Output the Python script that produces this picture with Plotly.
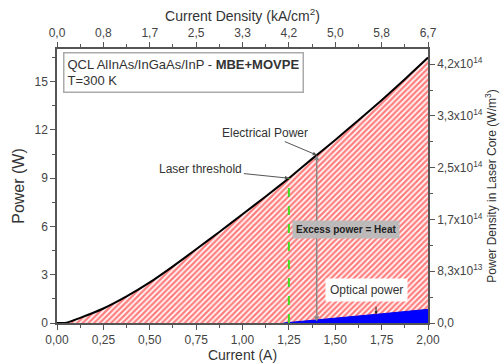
import numpy as np
import plotly.graph_objects as go

# ---- data ----
current_A = [0.0, 0.05, 0.125, 0.25, 0.375, 0.5, 0.625, 0.75, 0.875, 1.0,
             1.125, 1.25, 1.375, 1.5, 1.625, 1.75, 1.875, 2.0]
elec_power_W = [0.0, 0.02, 0.32, 0.90, 1.65, 2.52, 3.52, 4.58, 5.66, 6.76,
                7.86, 9.00, 10.20, 11.38, 12.60, 13.85, 15.15, 16.50]
opt_current_A = [1.22, 1.25, 1.5, 1.75, 2.0]
opt_power_W = [0.0, 0.03, 0.29, 0.57, 0.85]
threshold_A = 1.25
marker_A = 1.40

x_ticks = [0.0, 0.25, 0.5, 0.75, 1.0, 1.25, 1.5, 1.75, 2.0]
x_ticktext = ["0,00", "0,25", "0,50", "0,75", "1,00", "1,25", "1,50", "1,75", "2,00"]
top_ticktext = ["0,0", "0,8", "1,7", "2,5", "3,3", "4,2", "5,0", "5,8", "6,7"]
y_ticks = [0, 3, 6, 9, 12, 15]
dens_per_W = 2.59e13
dens_ticks = [0.0, 0.833e14, 1.667e14, 2.5e14, 3.333e14, 4.167e14]
dens_ticktext = ["0,0", "8,3x10<sup>13</sup>", "1,7x10<sup>14</sup>", "2,5x10<sup>14</sup>",
                 "3,3x10<sup>14</sup>", "4,2x10<sup>14</sup>"]

YMAX = 17.03
FONT = "Liberation Sans, Arial, sans-serif"
AX = "#555555"
TXT = "#333333"

fig = go.Figure()
fig.add_trace(go.Scatter(
    x=current_A, y=elec_power_W, mode="lines", fill="tozeroy",
    line=dict(color="black", width=2, shape="spline", smoothing=0.5),
    fillcolor="white",
    fillpattern=dict(shape="/", fgcolor="#ff0000", bgcolor="white", size=4, solidity=0.6),
    hoverinfo="skip", showlegend=False))
fig.add_trace(go.Scatter(
    x=opt_current_A, y=opt_power_W, mode="lines", fill="tozeroy",
    line=dict(color="#0000ee", width=1), fillcolor="#0000ff",
    hoverinfo="skip", showlegend=False))
# invisible trace carrying the secondary axes
fig.add_trace(go.Scatter(
    x=current_A, y=[p * dens_per_W for p in elec_power_W], xaxis="x2", yaxis="y2",
    mode="lines", line=dict(width=0, color="rgba(0,0,0,0)"), hoverinfo="skip", showlegend=False))

p_thr = float(np.interp(threshold_A, current_A, elec_power_W))
p_mark = float(np.interp(marker_A, current_A, elec_power_W))

fig.add_shape(type="line", x0=threshold_A, x1=threshold_A, y0=0, y1=p_thr,
              line=dict(color="#44dd22", width=2, dash="dash"))

annotations = [
    dict(x=marker_A, y=p_mark, ax=marker_A, ay=0, axref="x", ayref="y",
         xref="x", yref="y", text="", showarrow=True, arrowside="end+start",
         arrowhead=2, arrowsize=0.7, arrowwidth=1.5, arrowcolor="#888888"),
    dict(x=threshold_A, y=p_thr, ax=-88, ay=-9, text="Laser threshold",
         showarrow=True, arrowhead=2, arrowsize=0.8, arrowwidth=1, arrowcolor="#555555",
         font=dict(size=12, color=TXT, family=FONT)),
    dict(x=marker_A, y=p_mark, ax=-52, ay=-22, text="Electrical Power",
         showarrow=True, arrowhead=2, arrowsize=0.8, arrowwidth=1, arrowcolor="#555555",
         font=dict(size=12, color=TXT, family=FONT)),
    dict(x=1.558, y=5.83, text="<b>Excess power = Heat</b>", showarrow=False,
         bgcolor="rgba(185,185,185,0.95)", borderpad=3,
         font=dict(size=10, color="#222222", family=FONT)),
    dict(x=1.72, y=float(np.interp(1.72, opt_current_A, opt_power_W)), ax=0, ay=-9,
         text="", showarrow=True, arrowhead=2, arrowsize=0.6, arrowwidth=1, arrowcolor="#222222"),
    dict(x=1.671, y=2.03, text="Optical power", showarrow=False, bgcolor="white",
         borderpad=4, font=dict(size=12, color=TXT, family=FONT)),
    dict(xref="paper", yref="paper", x=0.016, y=0.989, xanchor="left", yanchor="top",
         text="QCL AlInAs/InGaAs/InP - <b>MBE+MOVPE</b><br>T=300 K", align="left",
         showarrow=False, bgcolor="white", bordercolor="#aaaaaa", borderwidth=1.5, borderpad=3,
         font=dict(size=13, color=TXT, family=FONT)),
]
fig.update_layout(annotations=annotations)

axis_common = dict(showline=True, linecolor=AX, linewidth=1.5, ticks="outside",
                   ticklen=5, tickwidth=1.2, tickcolor=AX, showgrid=False, zeroline=False,
                   automargin=False,
                   tickfont=dict(size=12, color="#444444", family=FONT))

fig.update_layout(
    width=502, height=363, margin=dict(l=57, r=74, t=49, b=40),
    plot_bgcolor="white", paper_bgcolor="white",
    font=dict(family=FONT, color=TXT),
    xaxis=dict(range=[0, 2], tickvals=x_ticks, ticktext=x_ticktext,
               minor=dict(dtick=0.125, ticks="outside", ticklen=3, tickcolor=AX),
               title=dict(text="Current (A)", font=dict(size=14, color=TXT, family=FONT), standoff=2),
               **axis_common),
    yaxis=dict(range=[0, YMAX], tickvals=y_ticks,
               minor=dict(dtick=1.5, ticks="outside", ticklen=3, tickcolor=AX),
               title=dict(text="Power (W)", font=dict(size=16, color=TXT, family=FONT), standoff=6),
               **axis_common),
    xaxis2=dict(range=[0, 2], overlaying="x", side="top", tickvals=x_ticks,
                ticktext=top_ticktext,
                minor=dict(dtick=0.125, ticks="outside", ticklen=3, tickcolor=AX),
                title=dict(text="Current Density (kA/cm<sup>2</sup>)", font=dict(size=14, color=TXT, family=FONT), standoff=2),
                **axis_common),
    yaxis2=dict(range=[0, YMAX * dens_per_W], overlaying="y", side="right",
                tickvals=dens_ticks, ticktext=dens_ticktext,
                minor=dict(tickvals=[d + 0.4165e14 for d in dens_ticks[:-1]], ticks="outside", ticklen=3, tickcolor=AX),
                title=dict(text="Power Density in Laser Core (W/m<sup>3</sup>)", font=dict(size=12, color=TXT, family=FONT), standoff=6),
                **axis_common),
)

fig.write_html("out.html")
